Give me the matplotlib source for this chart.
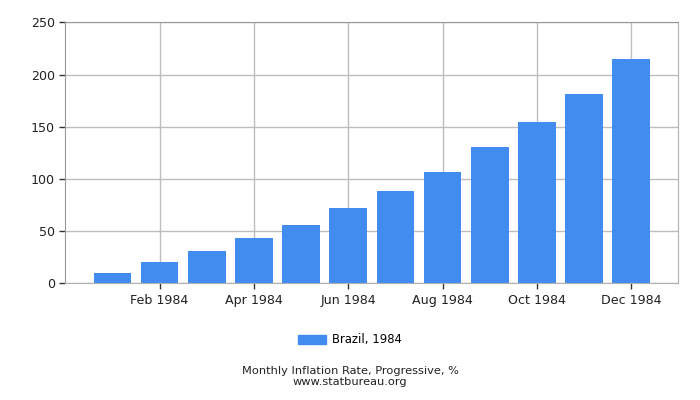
import matplotlib
matplotlib.use("Agg")
import matplotlib.pyplot as plt
from matplotlib.patches import Patch

months = ["Jan", "Feb", "Mar", "Apr", "May", "Jun",
          "Jul", "Aug", "Sep", "Oct", "Nov", "Dec"]
values = [9.9, 20.4, 30.9, 43.4, 55.9, 72.2, 88.4, 106.6, 130.6, 154.5, 181.3, 214.8]
year = "1984"
series_label = "Brazil, 1984"
y_ticks = [0, 50, 100, 150, 200, 250]

bar_color = "#428bef"
grid_color = "#bdbdbd"

fig = plt.figure(figsize=(7, 4), dpi=100)
ax = fig.add_axes([0.0933, 0.2917, 0.8757, 0.6523])

x = list(range(len(months)))
ax.bar(x, values, width=0.8, color=bar_color, zorder=2)

ax.set_xlim(-1, 12)
ax.set_ylim(0, 250)
ax.set_yticks(y_ticks)
tick_idx = x[1::2]
ax.set_xticks(tick_idx)
ax.set_xticklabels([f"{months[i]} {year}" for i in tick_idx])

ax.grid(True, color=grid_color, lw=1, zorder=0)
for s in ax.spines.values():
    s.set_color("#b0b0b0")
ax.spines["left"].set_color("#999999")
ax.spines["top"].set_color("#999999")
ax.tick_params(axis="both", labelsize=9.1, colors="#222222", length=4,
               width=1, direction="out")
ax.tick_params(axis="both", color="#333333")

fig.legend(handles=[Patch(color=bar_color, label=series_label)],
           loc="center", bbox_to_anchor=(0.5, 0.15), frameon=False,
           fontsize=8.4, handlelength=2.4, handleheight=0.8, handletextpad=0.5)

fig.text(0.5, 0.073, "Monthly Inflation Rate, Progressive, %", ha="center",
         va="center", fontsize=8.2, color="#222222")
fig.text(0.5, 0.046, "www.statbureau.org", ha="center", va="center",
         fontsize=8.2, color="#222222")

fig.savefig("out.png", dpi=100)
